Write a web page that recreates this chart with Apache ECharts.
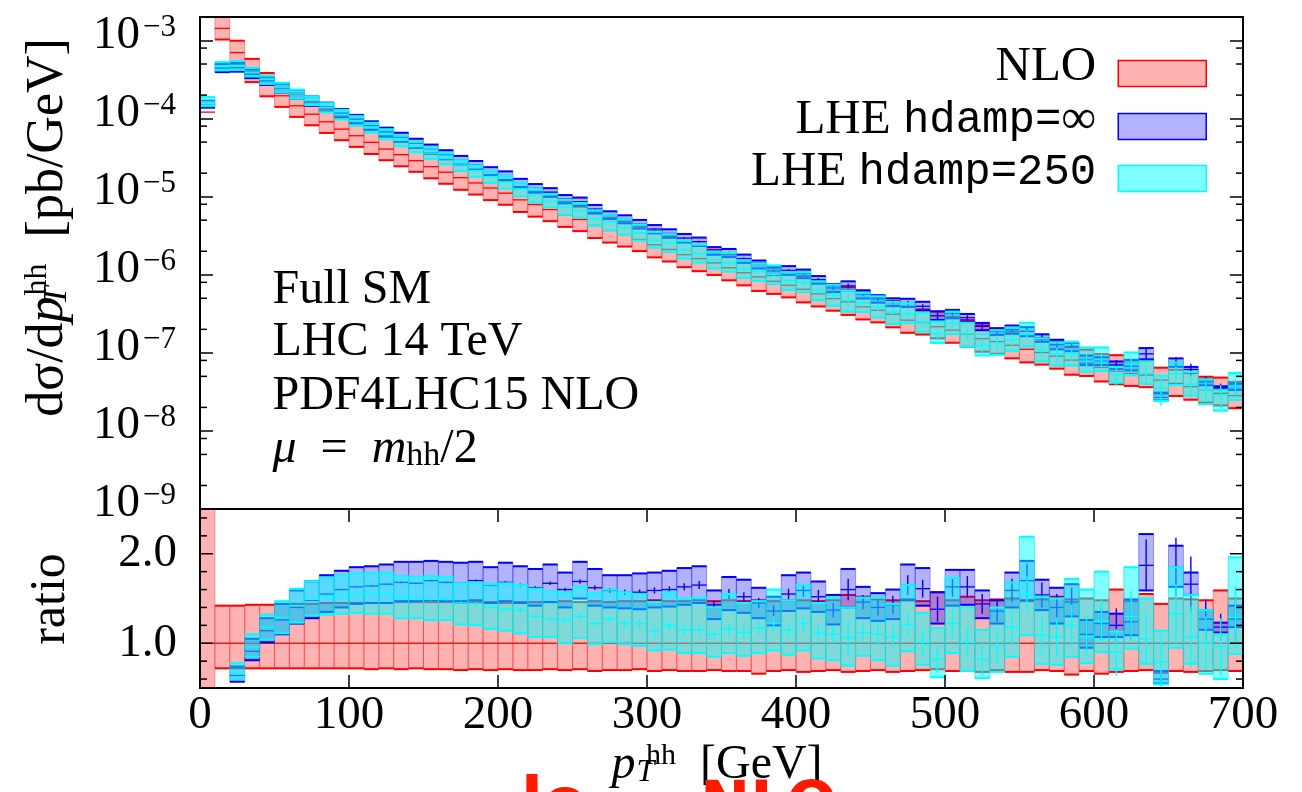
<!DOCTYPE html>
<html>
<head>
<meta charset="utf-8">
<script src="https://cdn.jsdelivr.net/npm/echarts@6/dist/echarts.min.js"></script>
<style>
html,body{margin:0;padding:0;background:#fff;}
#chart{width:1302px;height:792px;}
</style>
</head>
<body>
<div id="chart"></div>
<script>
// ---------------- data ----------------
// lower edge of each 10 GeV bin in p_T^hh [GeV]
const binLow = [0,10,20,30,40,50,60,70,80,90,100,110,120,130,140,150,160,170,180,190,
  200,210,220,230,240,250,260,270,280,290,300,310,320,330,340,350,360,370,380,390,
  400,410,420,430,440,450,460,470,480,490,500,510,520,530,540,550,560,570,580,590,
  600,610,620,630,640,650,660,670,680,690];
const binWidth = 10;

// NLO central value [pb/GeV]
const nloCentral = [1.21e-4,1.43e-3,7.0e-4,4.07e-4,2.68e-4,1.96e-4,1.46e-4,1.14e-4,9.1e-5,7.34e-5,
  6.03e-5,4.96e-5,4.07e-5,3.45e-5,2.89e-5,2.42e-5,2.06e-5,1.75e-5,1.50e-5,1.29e-5,
  1.11e-5,9.1e-6,7.93e-6,6.84e-6,5.86e-6,5.10e-6,4.28e-6,3.69e-6,3.28e-6,2.83e-6,
  2.42e-6,2.11e-6,1.81e-6,1.61e-6,1.42e-6,1.23e-6,1.06e-6,9.4e-7,8.24e-7,7.33e-7,
  6.51e-7,5.69e-7,4.95e-7,4.50e-7,3.88e-7,3.51e-7,3.12e-7,2.62e-7,2.45e-7,2.16e-7,
  1.95e-7,1.73e-7,1.52e-7,1.39e-7,1.25e-7,1.11e-7,1.01e-7,9.08e-8,8.07e-8,7.33e-8,
  6.51e-8,5.83e-8,5.46e-8,5.19e-8,4.48e-8,4.06e-8,3.69e-8,3.34e-8,3.03e-8,2.83e-8];

// NLO scale band, as ratio to NLO central
const nloRatioLo = [-1,0.72,0.72,0.72,0.72,0.72,0.72,0.72,0.72,0.72,
  0.72,0.71,0.72,0.71,0.72,0.71,0.71,0.70,0.71,0.70,
  0.71,0.70,0.70,0.71,0.70,0.71,0.69,0.70,0.70,0.71,
  0.69,0.70,0.69,0.69,0.70,0.69,0.69,0.66,0.69,0.70,
  0.68,0.69,0.70,0.68,0.69,0.70,0.68,0.69,0.70,0.71,
  0.69,0.69,0.68,0.70,0.68,0.68,0.70,0.69,0.65,0.69,
  0.66,0.68,0.69,0.70,0.67,0.69,0.68,0.69,0.70,0.69];
const nloRatioHi = [3.0,1.42,1.42,1.43,1.43,1.44,1.44,1.44,1.45,1.45,
  1.45,1.45,1.45,1.46,1.46,1.46,1.46,1.45,1.46,1.46,
  1.45,1.46,1.46,1.46,1.47,1.46,1.47,1.46,1.47,1.47,
  1.48,1.47,1.47,1.48,1.47,1.48,1.47,1.48,1.47,1.48,
  1.48,1.47,1.48,1.54,1.52,1.49,1.48,1.49,1.47,1.57,
  1.48,1.52,1.48,1.49,1.50,1.47,1.49,1.52,1.49,1.50,
  1.48,1.60,1.47,1.55,1.44,1.50,1.49,1.48,1.59,1.50];

// LHE hdamp=inf, ratio to NLO central
const infRatioLo = [1.14,0.275,0.57,0.81,1.01,1.10,1.22,1.28,1.35,1.40,
  1.44,1.45,1.45,1.47,1.47,1.48,1.47,1.47,1.48,1.45,
  1.47,1.45,1.42,1.46,1.40,1.50,1.42,1.40,1.39,1.38,
  1.40,1.41,1.43,1.45,1.27,1.37,1.34,1.28,1.20,1.36,
  1.39,1.35,1.21,1.40,1.28,1.25,1.27,1.48,1.42,1.22,
  1.42,1.43,1.28,1.22,1.40,1.48,1.37,1.22,1.30,0.95,
  1.07,1.07,1.09,1.59,0.55,1.63,1.54,1.15,1.12,1.18];
const infRatioMid = [1.22,0.31,0.64,0.91,1.14,1.26,1.40,1.48,1.55,1.60,
  1.63,1.64,1.66,1.68,1.67,1.70,1.68,1.67,1.70,1.65,
  1.68,1.65,1.62,1.67,1.60,1.69,1.62,1.59,1.57,1.57,
  1.59,1.60,1.63,1.65,1.43,1.55,1.52,1.45,1.36,1.55,
  1.59,1.52,1.37,1.60,1.46,1.40,1.43,1.65,1.61,1.38,
  1.63,1.63,1.44,1.36,1.59,1.70,1.54,1.40,1.46,1.10,
  1.22,1.20,1.24,1.87,0.60,1.85,1.66,1.27,1.18,1.27];
const infRatioHi = [1.40,0.35,0.74,1.05,1.28,1.44,1.59,1.69,1.76,1.81,
  1.85,1.86,1.88,1.91,1.91,1.92,1.91,1.90,1.91,1.85,
  1.90,1.86,1.83,1.88,1.79,1.91,1.83,1.76,1.76,1.78,
  1.79,1.81,1.84,1.86,1.59,1.74,1.71,1.62,1.52,1.76,
  1.79,1.69,1.54,1.83,1.63,1.56,1.60,1.88,1.84,1.57,
  1.82,1.82,1.59,1.48,1.79,1.92,1.71,1.62,1.66,1.26,
  1.35,1.33,1.49,2.22,0.69,2.09,1.79,1.37,1.23,1.42];
const infStat = [0.004,0.003,0.004,0.004,0.005,0.005,0.005,0.006,0.006,0.007,
  0.007,0.008,0.008,0.009,0.010,0.010,0.011,0.012,0.013,0.014,
  0.015,0.016,0.018,0.019,0.020,0.025,0.025,0.028,0.030,0.030,
  0.035,0.035,0.040,0.045,0.045,0.055,0.050,0.055,0.065,0.060,
  0.070,0.075,0.080,0.120,0.080,0.090,0.100,0.110,0.100,0.140,
  0.110,0.120,0.110,0.120,0.130,0.190,0.140,0.150,0.160,0.170,
  0.180,0.190,0.200,0.290,0.060,0.330,0.310,0.220,0.150,0.250];

// LHE hdamp=250, ratio to NLO central
const h250RatioLo = [1.20,0.29,0.60,0.85,1.04,1.11,1.23,1.31,1.32,1.33,
  1.34,1.33,1.33,1.28,1.28,1.26,1.26,1.21,1.20,1.16,
  1.14,1.11,1.07,1.07,1.00,1.06,0.99,1.01,0.99,0.97,
  0.92,0.93,0.89,0.89,0.85,0.89,0.86,0.89,0.92,0.87,
  0.92,0.83,0.81,0.75,0.86,0.81,0.75,0.91,0.76,0.62,
  0.89,0.69,0.61,0.68,0.85,1.09,0.77,0.76,0.85,0.78,
  0.90,0.71,0.94,0.77,0.54,0.95,0.77,0.66,0.60,0.88];
const h250RatioMid = [1.35,0.33,0.68,0.96,1.18,1.29,1.42,1.49,1.52,1.54,
  1.55,1.55,1.55,1.52,1.51,1.49,1.49,1.45,1.44,1.40,
  1.38,1.37,1.30,1.27,1.26,1.30,1.22,1.27,1.22,1.22,
  1.14,1.20,1.15,1.15,1.10,1.16,1.12,1.17,1.22,1.15,
  1.22,1.11,1.10,1.06,1.12,1.10,1.07,1.21,1.01,0.82,
  1.22,1.01,0.82,0.97,1.18,1.55,1.09,1.07,1.20,1.07,
  1.25,0.90,1.30,1.05,0.79,1.33,1.07,1.00,0.96,1.29];
const h250RatioHi = [1.56,0.37,0.78,1.10,1.32,1.47,1.61,1.69,1.73,1.76,
  1.78,1.78,1.79,1.75,1.74,1.75,1.74,1.67,1.68,1.66,
  1.67,1.65,1.61,1.58,1.57,1.63,1.56,1.60,1.57,1.55,
  1.46,1.57,1.50,1.51,1.40,1.55,1.45,1.47,1.60,1.48,
  1.65,1.45,1.51,1.40,1.51,1.51,1.44,1.65,1.34,1.17,
  1.73,1.40,1.15,1.40,1.68,2.19,1.52,1.50,1.72,1.60,
  1.80,1.13,1.85,1.50,1.14,1.85,1.54,1.37,1.10,1.96];
const h250Stat = [0.004,0.003,0.004,0.005,0.005,0.006,0.006,0.007,0.007,0.008,
  0.008,0.009,0.010,0.011,0.012,0.013,0.014,0.016,0.018,0.020,
  0.022,0.024,0.026,0.028,0.030,0.035,0.040,0.040,0.045,0.050,
  0.090,0.055,0.060,0.060,0.065,0.070,0.075,0.080,0.085,0.090,
  0.095,0.100,0.100,0.200,0.110,0.120,0.130,0.140,0.150,0.150,
  0.160,0.170,0.180,0.190,0.200,0.200,0.210,0.220,0.230,0.240,
  0.250,0.260,0.280,0.300,0.320,0.330,0.340,0.300,0.320,0.350];

// ticks
const logMinorTicks = [2e-9,5e-9,8e-9,2e-8,5e-8,8e-8,2e-7,5e-7,8e-7,2e-6,5e-6,8e-6,2e-5,5e-5,8e-5,2e-4,5e-4,8e-4];
const ratioMinorTicks = [0.6,0.8,1.2,1.4,1.6,1.8,2.2,2.4];
const ratioMajorTicks = [1.0,2.0];
const ratioTickLabels = ['1.0','2.0'];

const seriesNames = ['NLO','LHE hdamp=\u221e','LHE hdamp=250'];

// ---------------- styles ----------------
const SERIF = 'Liberation Serif';
const MONO = 'Liberation Mono';
const LOG_RANGE = [1e-9, 2e-3];
const RATIO_RANGE = [0.5, 2.5];
const STY = {
  nlo:  {fill:'rgba(255,0,0,0.3)', border:'rgba(255,0,0,0.35)', edge:'#ff0000'},
  inf:  {fill:'rgba(0,0,255,0.3)', border:'rgba(0,0,255,0.35)', edge:'#0000ff'},
  h250: {fill:'rgba(0,255,255,0.5)', border:'rgba(0,230,230,0.6)', edge:'#00ffff'}
};

// ---------------- build series data ----------------
function topData(lo, mid, hi, st, useNloBand) {
  return binLow.map((x0, i) => {
    const c = nloCentral[i];
    if (useNloBand) return [x0, x0 + binWidth, c * nloRatioLo[i], c, c * nloRatioHi[i], 0, nloRatioLo[i] > 0 ? 1 : 0];
    return [x0, x0 + binWidth, c * lo[i], c * mid[i], c * hi[i], c * st[i], 1];
  });
}
function ratioData(lo, mid, hi, st) {
  const out = [];
  binLow.forEach((x0, i) => {
    if (nloRatioLo[i] <= 0) return; // ratio undefined where NLO band is non-positive
    out.push([x0, x0 + binWidth, lo[i], mid[i], hi[i], st[i], 1]);
  });
  return out;
}

function lineEl(x1, y1, x2, y2, color, w) {
  return {type:'line', shape:{x1, y1, x2, y2}, style:{stroke:color, lineWidth:w}, silent:true};
}

function bandSeries(name, xIdx, yIdx, data, sty, range) {
  return {
    type:'custom', name, xAxisIndex:xIdx, yAxisIndex:yIdx, data, silent:true,
    itemStyle:{color:sty.fill, borderColor:sty.edge},
    renderItem(params, api) {
      const x0 = api.value(0), x1 = api.value(1);
      const lo = api.value(2), mid = api.value(3), hi = api.value(4), st = api.value(5), boxOk = api.value(6);
      const ymin = range[0], ymax = range[1];
      const cl = v => Math.min(ymax, Math.max(ymin, v));
      const inR = v => v >= ymin && v <= ymax;
      const px0 = api.coord([x0, ymin])[0], px1 = api.coord([x1, ymin])[0];
      const Y = v => api.coord([x0, cl(v)])[1];
      const ch = [];
      if (boxOk && hi > ymin && lo < ymax) {
        const yt = Y(hi), yb = Y(lo);
        ch.push({type:'rect', shape:{x:px0, y:yt, width:px1 - px0, height:yb - yt},
                 style:{fill:sty.fill, stroke:sty.border, lineWidth:1}, silent:true});
        if (inR(lo)) ch.push(lineEl(px0, Y(lo), px1, Y(lo), sty.edge, 2));
        if (inR(hi)) ch.push(lineEl(px0, Y(hi), px1, Y(hi), sty.edge, 2));
      }
      if (inR(mid)) ch.push(lineEl(px0, Y(mid), px1, Y(mid), sty.edge, 1.3));
      if (st > 0 && mid + st > ymin && mid - st < ymax) {
        const xc = (px0 + px1) / 2;
        ch.push(lineEl(xc, Y(mid + st), xc, Y(mid - st), sty.edge, 1.4));
      }
      return {type:'group', children:ch};
    }
  };
}

function tickSeries(xIdx, yIdx, values, len) {
  return {
    type:'custom', xAxisIndex:xIdx, yAxisIndex:yIdx, silent:true, z:11,
    data: values.map(v => [v]),
    renderItem(params, api) {
      const v = api.value(0);
      const pl = api.coord([0, v]), pr = api.coord([700, v]);
      return {type:'group', children:[
        lineEl(pl[0], pl[1], pl[0] + len, pl[1], '#000', 1.5),
        lineEl(pr[0] - len, pr[1], pr[0], pr[1], '#000', 1.5)
      ]};
    }
  };
}

// ---------------- axes ----------------
const frameLine = {show:true, onZero:false, lineStyle:{color:'#000', width:2}};
const noTick = {show:false};
const noLabel = {show:false};
const inTick = {show:true, inside:true, length:13, lineStyle:{color:'#000', width:1.5}};

function xAx(grid, pos, opts) {
  return Object.assign({gridIndex:grid, type:'value', min:0, max:700, interval:100, position:pos,
    axisLine:frameLine, axisTick:noTick, axisLabel:noLabel, splitLine:{show:false}, z:10}, opts || {});
}

const logLabel = {
  show:true, margin:24, color:'#000', padding:[0,0,10,0],
  formatter: function (v) {
    const l = Math.log10(v), e = Math.round(l);
    if (Math.abs(l - e) > 1e-6 || e > -3) return '';
    return '{b|10}{s|\u2212' + (-e) + '}';
  },
  rich: {
    b: {fontFamily:SERIF, fontSize:47, lineHeight:47, color:'#000'},
    s: {fontFamily:SERIF, fontSize:31, lineHeight:30, verticalAlign:'top', padding:[0,0,0,3], color:'#000'}
  }
};

const ratioLabel = {
  show:true, margin:23, color:'#000', padding:[0,0,10,0],
  fontFamily:SERIF, fontSize:47, lineHeight:47,
  formatter: function (v) {
    for (let k = 0; k < ratioMajorTicks.length; k++) {
      if (Math.abs(v - ratioMajorTicks[k]) < 1e-6) return ratioTickLabels[k];
    }
    return '';
  }
};

const option = {
  animation:false,
  backgroundColor:'#ffffff',
  grid:[
    {left:200, top:17, width:1043, height:492, containLabel:false, outerBoundsMode:'none', show:false},
    {left:200, top:509, width:1043, height:179, containLabel:false, outerBoundsMode:'none', show:false}
  ],
  xAxis:[
    xAx(0, 'bottom'),
    xAx(0, 'top'),
    xAx(1, 'bottom', {axisTick:inTick, axisLabel:{show:true, margin:4, color:'#000', fontFamily:SERIF, fontSize:47, lineHeight:47}}),
    xAx(1, 'top', {axisTick:inTick})
  ],
  yAxis:[
    {gridIndex:0, type:'log', logBase:10, min:LOG_RANGE[0], max:LOG_RANGE[1], position:'left',
     axisLine:frameLine, axisTick:inTick, axisLabel:logLabel, splitLine:{show:false}, minorTick:{show:false}, z:10},
    {gridIndex:0, type:'log', logBase:10, min:LOG_RANGE[0], max:LOG_RANGE[1], position:'right',
     axisLine:frameLine, axisTick:inTick, axisLabel:noLabel, splitLine:{show:false}, z:10},
    {gridIndex:1, type:'value', min:RATIO_RANGE[0], max:RATIO_RANGE[1], interval:0.1, position:'left',
     axisLine:frameLine, axisTick:noTick, axisLabel:ratioLabel, splitLine:{show:false}, z:10},
    {gridIndex:1, type:'value', min:RATIO_RANGE[0], max:RATIO_RANGE[1], interval:0.1, position:'right',
     axisLine:frameLine, axisTick:noTick, axisLabel:noLabel, splitLine:{show:false}, z:10}
  ],
  legend: [0,1,2].map(k => ({
    orient:'vertical', align:'right', right:95, top:[43,96,148][k], padding:0,
    itemWidth:88, itemHeight:26, icon:'rect', selectedMode:false,
    data:[{name:seriesNames[k], itemStyle:{color:[STY.nlo,STY.inf,STY.h250][k].fill,
           borderColor:[STY.nlo,STY.inf,STY.h250][k].edge, borderWidth:1.5}}],
    formatter: function (name) {
      if (name === 'NLO') return '{r|NLO}';
      const parts = name.split(' ');
      const rest = parts[1];
      const eq = rest.indexOf('=');
      const val = rest.slice(eq + 1);
      return '{r|' + parts[0] + ' }{m|' + rest.slice(0, eq + 1) + '}' + (val === '\u221e' ? '{r|\u221e}' : '{m|' + val + '}');
    },
    textStyle:{color:'#000', padding:[0,17,12,0],
      rich:{ r:{fontFamily:SERIF, fontSize:49, color:'#000'}, m:{fontFamily:MONO, fontSize:44, color:'#000'} }}
  })),
  graphic:[
    {type:'text', x:272.5, y:290, silent:true,
     style:{text:'Full SM', fontFamily:SERIF, fontSize:48, fill:'#000', verticalAlign:'middle', align:'left'}},
    {type:'text', x:272.5, y:342.5, silent:true,
     style:{text:'LHC 14 TeV', fontFamily:SERIF, fontSize:48, fill:'#000', verticalAlign:'middle', align:'left'}},
    {type:'text', x:272.5, y:396.8, silent:true,
     style:{text:'PDF4LHC15 NLO', fontFamily:SERIF, fontSize:48, fill:'#000', verticalAlign:'middle', align:'left'}},
    {type:'text', x:272.5, y:449.3, silent:true,
     style:{text:'{i|\u03bc}{n|\u2002=\u2002}{i|m}{sub|hh}{n|/2}', verticalAlign:'middle', align:'left',
       rich:{ i:{fontFamily:SERIF, fontStyle:'italic', fontSize:48, lineHeight:48, fill:'#000'},
              n:{fontFamily:SERIF, fontSize:48, lineHeight:48, fill:'#000'},
              sub:{fontFamily:SERIF, fontSize:34, lineHeight:20, verticalAlign:'bottom', fill:'#000'} }}},
    // y axis title of the top panel
    {type:'text', x:48, y:227.5, rotation:Math.PI / 2, silent:true,
     style:{text:'{n|d\u03c3/d}{i|p}{sub|T}{sup|hh}{n|\u2002[pb/GeV]}', align:'center', verticalAlign:'middle',
       rich:{ n:{fontFamily:SERIF, fontSize:52, lineHeight:52, fill:'#000'},
              i:{fontFamily:SERIF, fontStyle:'italic', fontSize:52, lineHeight:52, fill:'#000'},
              sub:{fontFamily:SERIF, fontStyle:'italic', fontSize:34, lineHeight:22, width:1, verticalAlign:'bottom', fill:'#000'},
              sup:{fontFamily:SERIF, fontSize:32, lineHeight:28, verticalAlign:'top', fill:'#000'} }}},
    // y axis title of the ratio panel
    {type:'text', x:50.5, y:599, rotation:Math.PI / 2, silent:true,
     style:{text:'ratio', fontFamily:SERIF, fontSize:50, fill:'#000', align:'center', verticalAlign:'middle'}},
    // x axis title
    {type:'text', x:717, y:765, silent:true,
     style:{text:'{i|p\u2009}{sub|T}{sup|hh}{n|\u2002[GeV]}', align:'center', verticalAlign:'middle',
       rich:{ n:{fontFamily:SERIF, fontSize:48, lineHeight:48, fill:'#000'},
              i:{fontFamily:SERIF, fontStyle:'italic', fontSize:48, lineHeight:48, fill:'#000'},
              sub:{fontFamily:SERIF, fontStyle:'italic', fontSize:32, lineHeight:20, width:1, verticalAlign:'bottom', fill:'#000'},
              sup:{fontFamily:SERIF, fontSize:30, lineHeight:26, verticalAlign:'top', fill:'#000'} }}},
    // cropped red slide text at the very bottom
    {type:'text', x:521, y:774, silent:true,
     style:{text:'lo', fontFamily:'DejaVu Sans', fontWeight:'bold', fontSize:64, fill:'#ff1a00', verticalAlign:'top', align:'left'}},
    {type:'text', x:700, y:778, silent:true,
     style:{text:'NLO', fontFamily:'DejaVu Sans', fontWeight:'bold', fontSize:60, fill:'#ff1a00', verticalAlign:'top', align:'left'}}
  ],
  series:[
    bandSeries(seriesNames[0], 0, 0, topData(null, null, null, null, true), STY.nlo, LOG_RANGE),
    bandSeries(seriesNames[1], 0, 0, topData(infRatioLo, infRatioMid, infRatioHi, infStat, false), STY.inf, LOG_RANGE),
    bandSeries(seriesNames[2], 0, 0, topData(h250RatioLo, h250RatioMid, h250RatioHi, h250Stat, false), STY.h250, LOG_RANGE),
    bandSeries(seriesNames[0], 2, 2, binLow.map((x0, i) => [x0, x0 + binWidth, nloRatioLo[i], 1, nloRatioHi[i], 0, 1]), STY.nlo, RATIO_RANGE),
    bandSeries(seriesNames[1], 2, 2, ratioData(infRatioLo, infRatioMid, infRatioHi, infStat), STY.inf, RATIO_RANGE),
    bandSeries(seriesNames[2], 2, 2, ratioData(h250RatioLo, h250RatioMid, h250RatioHi, h250Stat), STY.h250, RATIO_RANGE),
    tickSeries(0, 0, logMinorTicks, 7),
    tickSeries(2, 2, ratioMinorTicks, 7),
    tickSeries(2, 2, ratioMajorTicks, 13)
  ]
};

const chart = echarts.init(document.getElementById('chart'), null, {renderer:'canvas'});
chart.setOption(option);
</script>
</body>
</html>
